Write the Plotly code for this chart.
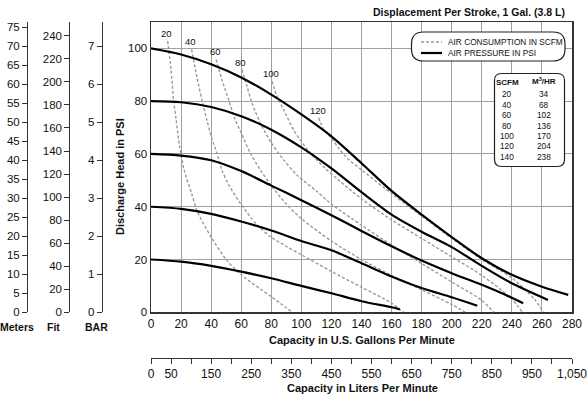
import plotly.graph_objects as go

# ---------------- data ----------------
gpm_ticks = list(range(0, 281, 20))
psi_ticks = [0, 20, 40, 60, 80, 100]
meters_ticks = list(range(0, 76, 5))
feet_ticks = list(range(0, 241, 20))
bar_ticks = list(range(0, 8))
liters_tickvals = list(range(0, 1051, 50))
liters_ticktext = ["0", "50", " ", "150", " ", "250", " ", "350", " ", "450", " ", "550", " ",
                   "650", " ", "750", " ", "850", " ", "950", " ", "1,050"]

# air pressure curves (gpm, psi)
p100_gpm = [0, 20, 40, 60, 80, 100, 120, 140, 160, 180, 200, 220, 240, 260, 277.5]
p100_psi = [100, 97.7, 94, 89, 82.5, 75, 66.7, 56.5, 46, 37, 28.5, 20.5, 14.2, 9.7, 6.6]
p80_gpm = [0, 20, 40, 60, 80, 100, 120, 140, 160, 180, 200, 220, 240, 264]
p80_psi = [80, 79.6, 77.8, 74.3, 69.2, 62.5, 54.5, 45.5, 37, 30.5, 24.7, 17.6, 11, 4.7]
p60_gpm = [0, 20, 40, 60, 80, 100, 120, 140, 160, 180, 200, 220, 240, 247.5]
p60_psi = [60, 59.4, 57.6, 53.5, 48, 42.5, 36.8, 30.8, 25, 19.6, 14.8, 10.4, 5.5, 3.4]
p40_gpm = [0, 20, 40, 60, 80, 100, 120, 140, 160, 180, 200, 217]
p40_psi = [40, 39.2, 37.3, 34.4, 31, 27, 23.5, 18.6, 13.6, 9.2, 5.7, 2.5]
p20_gpm = [0, 20, 40, 60, 80, 100, 120, 140, 160, 165.5]
p20_psi = [20, 19.2, 17.6, 15.4, 12.9, 10, 7.2, 4.2, 1.9, 1.1]

# air consumption curves (gpm, psi)
s20_gpm = [11.1, 13.3, 15, 16.7, 19, 22, 27, 31, 40, 50, 60, 80, 94]
s20_psi = [102.8, 92, 80.6, 73, 63, 54, 45, 38, 28.5, 20, 14.2, 5.9, 0]
s40_gpm = [27, 30.4, 33.8, 37.1, 40, 43.8, 47.1, 52, 59.3, 70, 79.3, 90, 100, 120, 140, 160, 168]
s40_psi = [99.6, 89.5, 80.6, 73, 66.7, 60.4, 54, 48, 41.4, 33.5, 28.7, 25, 21.8, 15.5, 9.5, 3.5, 0]
s60_gpm = [43.3, 47.1, 51.6, 56, 60, 66, 72.7, 80, 90, 100, 120, 140, 160, 180, 200, 209]
s60_psi = [95.8, 88.2, 80.6, 73, 68, 60.4, 54, 48, 41, 35.5, 27, 20, 14, 8.5, 3, 0]
s80_gpm = [60.4, 63.8, 67.1, 72.7, 80, 88.2, 97.1, 110, 120, 140, 160, 180, 200, 220, 228]
s80_psi = [92, 85.7, 79.4, 71.8, 64.2, 57.8, 52, 46, 41, 33, 25.5, 18.5, 11.5, 4.5, 0]
s100_gpm = [80.4, 83.8, 88.2, 95, 105, 115, 125, 140, 160, 180, 200, 220, 240, 247]
s100_psi = [87.6, 81.9, 76.8, 69, 61, 55, 50, 43, 35, 28, 21, 14, 5, 0]
s120_gpm = [111.5, 114.9, 120, 125, 130.4, 140, 160, 180, 200, 220, 240, 255, 261]
s120_psi = [73.7, 69.2, 66, 62, 58.5, 54, 45, 36.5, 28, 20, 13, 5, 0]

pressure_curves = [(p100_gpm, p100_psi), (p80_gpm, p80_psi), (p60_gpm, p60_psi),
                   (p40_gpm, p40_psi), (p20_gpm, p20_psi)]
scfm_labels = ["20", "40", "60", "80", "100", "120"]
scfm_curves = [(s20_gpm, s20_psi), (s40_gpm, s40_psi), (s60_gpm, s60_psi),
               (s80_gpm, s80_psi), (s100_gpm, s100_psi), (s120_gpm, s120_psi)]

table_scfm = ["20", "40", "60", "80", "100", "120", "140"]
table_m3hr = ["34", "68", "102", "136", "170", "204", "238"]

# ---------------- layout helpers ----------------
FIG_W, FIG_H = 587, 397
ML, MR, MT, MB = 20, 15, 22, 39
PW = FIG_W - ML - MR
PH = FIG_H - MT - MB


def px(x):
    """page pixel x -> paper fraction"""
    return (x - ML) / PW


def py(y):
    """page pixel y -> paper fraction"""
    return (FIG_H - MB - y) / PH


FONT = "Liberation Sans, Arial, sans-serif"
GRID = "#a0a0a0"
TXT = "#111111"

fig = go.Figure()

for gx, gy in scfm_curves:
    fig.add_trace(go.Scatter(x=gx, y=gy, mode="lines",
                             line=dict(color="#9a9a9a", width=1.4, dash="3px,2px",
                                       shape="spline", smoothing=0.8),
                             showlegend=False, hoverinfo="skip"))
for gx, gy in pressure_curves:
    fig.add_trace(go.Scatter(x=gx, y=gy, mode="lines",
                             line=dict(color="black", width=2.2, shape="spline", smoothing=0.8),
                             showlegend=False, hoverinfo="skip"))

# invisible traces so that the secondary axes are drawn
for ax in ["y2", "y3", "y4"]:
    fig.add_trace(go.Scatter(x=[0], y=[0], yaxis=ax, mode="markers", marker=dict(opacity=0),
                             showlegend=False, hoverinfo="skip"))
fig.add_trace(go.Scatter(x=[0], y=[0], xaxis="x2", mode="markers", marker=dict(opacity=0),
                         showlegend=False, hoverinfo="skip"))

annotations = []
for lab, (gx, gy) in zip(scfm_labels, scfm_curves):
    annotations.append(dict(x=gx[0], y=gy[0], xref="x", yref="y", text=lab, showarrow=False,
                            xanchor="center", yanchor="bottom", yshift=0, xshift=-1,
                            font=dict(size=9.5, color=TXT)))

annotations.append(dict(x=px(567), y=py(12), xref="paper", yref="paper",
                        text="<b>Displacement Per Stroke, 1 Gal. (3.8 L)</b>", showarrow=False,
                        xanchor="right", yanchor="middle", font=dict(size=10.5, color=TXT)))
annotations.append(dict(x=px(362), y=py(340), xref="paper", yref="paper",
                        text="<b>Capacity in U.S. Gallons Per Minute</b>", showarrow=False,
                        xanchor="center", yanchor="middle", font=dict(size=11, color=TXT)))
annotations.append(dict(x=px(362), y=py(388), xref="paper", yref="paper",
                        text="<b>Capacity in Liters Per Minute</b>", showarrow=False,
                        xanchor="center", yanchor="middle", font=dict(size=11, color=TXT)))
annotations.append(dict(x=px(120), y=py(177), xref="paper", yref="paper",
                        text="<b>Discharge Head in PSI</b>", showarrow=False, textangle=-90,
                        xanchor="center", yanchor="middle", font=dict(size=11, color=TXT)))
for t, xx in [("Meters", 17), ("Fit", 53), ("BAR", 96)]:
    annotations.append(dict(x=px(xx), y=py(327), xref="paper", yref="paper",
                            text="<b>" + t + "</b>", showarrow=False,
                            xanchor="center", yanchor="middle", font=dict(size=10.5, color=TXT)))


def rrect(x0, y0, x1, y1, r):
    X0, X1 = px(x0), px(x1)
    Y0, Y1 = py(y1), py(y0)
    rx, ry = r / PW, r / PH
    return (f"M {X0+rx},{Y1} L {X1-rx},{Y1} Q {X1},{Y1} {X1},{Y1-ry} "
            f"L {X1},{Y0+ry} Q {X1},{Y0} {X1-rx},{Y0} L {X0+rx},{Y0} "
            f"Q {X0},{Y0} {X0},{Y0+ry} L {X0},{Y1-ry} Q {X0},{Y1} {X0+rx},{Y1} Z")


shapes = [
    dict(type="path", path=rrect(411.5, 32, 565, 61, 12), xref="paper", yref="paper",
         line=dict(color="#222", width=1.2), fillcolor="white", layer="above"),
    dict(type="line", x0=px(421), x1=px(442), y0=py(42), y1=py(42), xref="paper", yref="paper",
         line=dict(color="#9a9a9a", width=1.4, dash="3px,2px"), layer="above"),
    dict(type="line", x0=px(421), x1=px(442), y0=py(53), y1=py(53), xref="paper", yref="paper",
         line=dict(color="black", width=2.2), layer="above"),
    dict(type="path", path=rrect(494.5, 73.5, 564.5, 166.5, 7), xref="paper", yref="paper",
         line=dict(color="#222", width=1.2), fillcolor="white", layer="above"),
]
annotations.append(dict(x=px(446), y=py(42), xref="paper", yref="paper",
                        text="AIR CONSUMPTION IN SCFM", showarrow=False,
                        xanchor="left", yanchor="middle", font=dict(size=8.3, color=TXT)))
annotations.append(dict(x=px(446), y=py(53), xref="paper", yref="paper",
                        text="AIR PRESSURE IN PSI", showarrow=False,
                        xanchor="left", yanchor="middle", font=dict(size=8.3, color=TXT)))
annotations.append(dict(x=px(507), y=py(82), xref="paper", yref="paper",
                        text="<b>SCFM</b>", showarrow=False,
                        xanchor="center", yanchor="middle", font=dict(size=8, color=TXT)))
annotations.append(dict(x=px(543.5), y=py(81), xref="paper", yref="paper",
                        text="<b>M<sup>3</sup>/HR</b>", showarrow=False,
                        xanchor="center", yanchor="middle", font=dict(size=8, color=TXT)))
for i, (a, b) in enumerate(zip(table_scfm, table_m3hr)):
    yy = 94.3 + i * 10.4
    annotations.append(dict(x=px(507), y=py(yy), xref="paper", yref="paper", text=a,
                            showarrow=False, xanchor="center", yanchor="middle",
                            font=dict(size=8.3, color=TXT)))
    annotations.append(dict(x=px(543.5), y=py(yy), xref="paper", yref="paper", text=b,
                            showarrow=False, xanchor="center", yanchor="middle",
                            font=dict(size=8.3, color=TXT)))

ydom = [py(312.3), py(22)]
xdom = [px(151), px(572)]

side_axis = dict(overlaying="y", anchor="free", side="left", showgrid=False, zeroline=False,
                 showline=True, linecolor="#333", ticks="outside", ticklen=5,
                 tickcolor="#333", tickfont=dict(size=11.5, color=TXT), automargin=False,
                 fixedrange=True)

fig.update_layout(
    template="none",
    width=FIG_W, height=FIG_H,
    margin=dict(l=ML, r=MR, t=MT, b=MB, autoexpand=False),
    paper_bgcolor="white", plot_bgcolor="white",
    font=dict(family=FONT, size=12, color=TXT),
    showlegend=False,
    hovermode=False,
    xaxis=dict(domain=xdom, range=[0, 280], tickvals=gpm_ticks, showgrid=True,
               gridcolor=GRID, gridwidth=1, zeroline=False, showline=True,
               linecolor="#333", linewidth=1.5, mirror=True, ticks="",
               tickfont=dict(size=12, color=TXT), automargin=False, fixedrange=True),
    yaxis=dict(domain=ydom, range=[0, 110], tickvals=psi_ticks, showgrid=True,
               gridcolor=GRID, gridwidth=1, zeroline=False, showline=True,
               linecolor="#333", linewidth=1.5, mirror=True, ticks="",
               tickfont=dict(size=11.5, color=TXT), automargin=False, fixedrange=True),
    xaxis2=dict(overlaying="x", anchor="free", position=0, side="bottom",
                range=[0, 1050], tickvals=liters_tickvals, ticktext=liters_ticktext,
                showgrid=False, zeroline=False, showline=True, linecolor="#333",
                ticks="outside", ticklen=5, tickcolor="#333",
                tickfont=dict(size=12, color=TXT), automargin=False, fixedrange=True,
                ticklabeloverflow="allow"),
    yaxis2=dict(side_axis, position=px(27), range=[0, 76.4], tickvals=meters_ticks),
    yaxis3=dict(side_axis, position=px(69.3), range=[0, 252], tickvals=feet_ticks),
    yaxis4=dict(side_axis, position=px(101.7), range=[0, 7.64], tickvals=bar_ticks),
    annotations=annotations,
    shapes=shapes,
)

# remove the default 8px page margin so the figure fills the window exactly
fig.write_html("out.html",
               config={"displayModeBar": False, "staticPlot": True},
               post_script="document.body.style.margin='0';document.body.style.padding='0';")
